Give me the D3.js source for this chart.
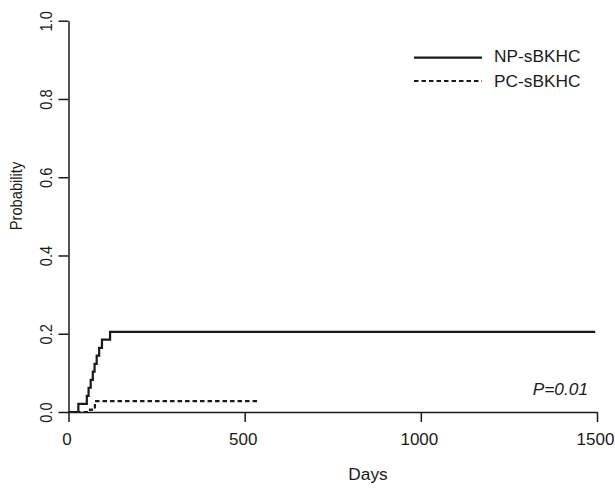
<!DOCTYPE html>
<html><head><meta charset="utf-8">
<script src="https://cdn.jsdelivr.net/npm/d3@7"></script>
<style>
body{margin:0;background:#fff}
svg{display:block}
text{font-family:"Liberation Sans",Arial,Helvetica,sans-serif;fill:#1a1a1a}
</style>
</head><body><svg id="c" width="615" height="489"></svg>
<script>
// ---- data ----
const npDays = [0, 28, 52, 57, 63, 69, 74, 80, 87, 95, 118, 1495];
const npProb = [0, 0.021, 0.041, 0.062, 0.082, 0.103, 0.123, 0.144, 0.164, 0.185, 0.205, 0.205];
const pcDays = [0, 61, 75, 541];
const pcProb = [0, 0.006, 0.028, 0.028];
const seriesNames = ["NP-sBKHC", "PC-sBKHC"];
const xTicks = [0, 500, 1000, 1500];
const yTicks = [0, 0.2, 0.4, 0.6, 0.8, 1.0];
const xLabel = "Days", yLabel = "Probability", pText = "P=0.01";

const FS = 17.3, INK = "#1a1a1a";
const svg = d3.select("#c");
svg.append("rect").attr("width",615).attr("height",489).attr("fill","#fff");

const x = d3.scaleLinear().domain([0,1500]).range([68.5,597]);
const y = d3.scaleLinear().domain([0,1]).range([412,20.7]);

// x axis
const gx = svg.append("g").attr("transform",`translate(0,${y(0)})`)
  .call(d3.axisBottom(x).tickValues(xTicks).tickFormat(d3.format("d")).tickSize(10).tickSizeOuter(0));
gx.select(".domain").attr("stroke",INK).attr("stroke-width",1.5);
gx.selectAll(".tick line").attr("stroke",INK).attr("stroke-width",1.5);
gx.selectAll(".tick text").attr("x",-2).attr("y",33).attr("dy",0).attr("font-size",17)
  .attr("font-family",'"Liberation Sans",Arial,sans-serif').attr("fill",INK);

// y axis
const gy = svg.append("g").attr("transform",`translate(${x(0)},0)`)
  .call(d3.axisLeft(y).tickValues(yTicks).tickFormat(d3.format(".1f")).tickSize(10).tickSizeOuter(0));
gy.select(".domain").attr("stroke",INK).attr("stroke-width",1.5);
gy.selectAll(".tick line").attr("stroke",INK).attr("stroke-width",1.5);
gy.selectAll(".tick text").attr("x",0).attr("y",0).attr("dy",0)
  .attr("text-anchor","middle")
  .attr("transform","translate(-16.8,0) rotate(-90) scale(0.85,1)")
  .attr("font-size",FS).attr("font-family",'"Liberation Sans",Arial,sans-serif').attr("fill",INK);

// axis titles
svg.append("text").attr("x",368).attr("y",480).attr("text-anchor","middle")
  .attr("font-size",FS).text(xLabel);
svg.append("text").attr("transform","translate(22.4,196) rotate(-90) scale(0.85,1)")
  .attr("text-anchor","middle").attr("font-size",FS).text(yLabel);

// curves
const line = d3.line().x(d=>x(d[0])).y(d=>y(d[1])).curve(d3.curveStepAfter);
const npData = npDays.map((d,i)=>[d,npProb[i]]);
const pcData = pcDays.map((d,i)=>[d,pcProb[i]]);
svg.append("path").datum(pcData).attr("d",line).attr("fill","none")
  .attr("stroke",INK).attr("stroke-width",2.2).attr("stroke-dasharray","4.5,3");
svg.append("path").datum(npData).attr("d",line).attr("fill","none")
  .attr("stroke",INK).attr("stroke-width",2.2);

// legend
const leg = [{y:57.7, ty:62, dash:null},{y:81, ty:86.5, dash:"4.5,3"}];
leg.forEach((l,i)=>{
  svg.append("line").attr("x1",414).attr("x2",482).attr("y1",l.y).attr("y2",l.y)
    .attr("stroke",INK).attr("stroke-width",2.2).attr("stroke-dasharray",l.dash);
  svg.append("text").attr("x",494).attr("y",l.ty).attr("font-size",FS).text(seriesNames[i]);
});

// p-value
svg.append("text").attr("x",588).attr("y",395).attr("text-anchor","end")
  .attr("font-size",FS).attr("font-style","italic").text(pText);
</script>
</body></html>
